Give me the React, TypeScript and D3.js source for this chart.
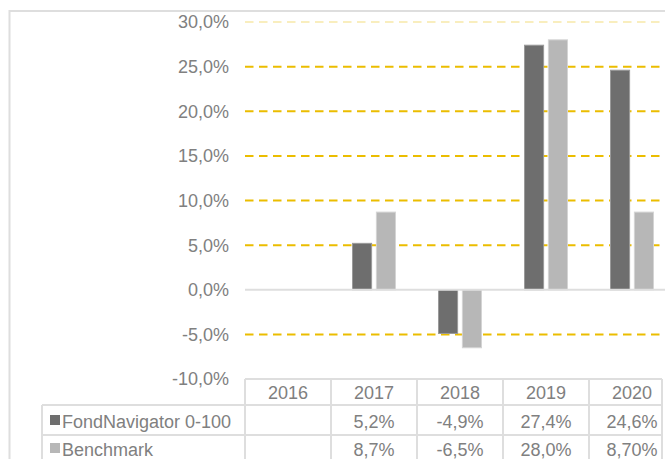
import React from "react";
import * as d3 from "d3";

const years = ["2016", "2017", "2018", "2019", "2020"];
const seriesNames = ["FondNavigator 0-100", "Benchmark"];
const fondValues: (number | null)[] = [null, 5.2, -4.9, 27.4, 24.6];
const benchValues: (number | null)[] = [null, 8.7, -6.5, 28.0, 8.7];
const fondLabels = ["", "5,2%", "-4,9%", "27,4%", "24,6%"];
const benchLabels = ["", "8,7%", "-6,5%", "28,0%", "8,70%"];
const yTicks = [-10, -5, 0, 5, 10, 15, 20, 25, 30];

const W = 665;
const H = 459;
const TEXT = "#808080";
const LINE = "#dedede";
const GOLD = "#ebbd00";
const colors = ["#6e6e6e", "#b7b7b7"];
const strokes = ["#9a9a9a", "#d4d4d4"];

export default function App() {
  const x = d3.scaleBand<string>().domain(years).range([245, 675]);
  const bw = x.bandwidth();
  const xi = d3
    .scaleBand<string>()
    .domain(seriesNames)
    .range([0, bw])
    .paddingInner(0.2)
    .paddingOuter(0.9);
  const y = d3.scaleLinear().domain([-10, 30]).range([379, 22]);
  const fmt = (v: number) =>
    d3.format(".1f")(v).replace(".", ",").replace("\u2212", "-") + "%";
  const series = [fondValues, benchValues];
  const rowLabels = [fondLabels, benchLabels];
  const font = "'Liberation Sans', Arial, sans-serif";
  const tableRight = 662;
  const rowTops = [379, 405, 435, 465];

  return (
    <div style={{ position: "absolute", left: 0, top: 0 }}>
      <svg width={W} height={H} style={{ display: "block", fontFamily: font }}>
        <rect x={0} y={0} width={W} height={H} fill="#fff" />
        {/* outer frame */}
        <line x1={9.5} y1={11} x2={W} y2={11} stroke={LINE} strokeWidth={2} />
        <line x1={9.5} y1={10} x2={9.5} y2={H} stroke={LINE} strokeWidth={2} />

        {/* gridlines */}
        {yTicks
          .filter((t) => t !== 0)
          .map((t) => (
            <line
              key={t}
              x1={245}
              x2={W}
              y1={y(t)}
              y2={y(t)}
              stroke={GOLD}
              strokeWidth={2}
              strokeDasharray="8.5,5.5"
              opacity={t === 30 || t === -10 ? 0.25 : 1}
            />
          ))}

        {/* y labels */}
        {yTicks.map((t) => (
          <text
            key={t}
            x={229}
            y={y(t)}
            dy="0.36em"
            textAnchor="end"
            fontSize={18}
            fill={TEXT}
          >
            {fmt(t)}
          </text>
        ))}

        {/* bars */}
        {series.map((vals, si) =>
          years.map((yr, i) => {
            const v = vals[i];
            if (v === null) return null;
            const x0 = (x(yr) as number) + (xi(seriesNames[si]) as number);
            const top = Math.min(y(v), y(0));
            const h = Math.abs(y(v) - y(0));
            return (
              <rect
                key={si + "-" + yr}
                x={x0}
                y={top}
                width={xi.bandwidth()}
                height={h}
                fill={colors[si]}
                stroke={strokes[si]}
                strokeWidth={1}
              />
            );
          })
        )}

        {/* zero line */}
        <line x1={245} x2={W} y1={y(0)} y2={y(0)} stroke={LINE} strokeWidth={2} />

        {/* table */}
        <rect x={245} y={rowTops[0]} width={tableRight - 245} height={H - rowTops[0] + 10} fill="#fff" />
        <rect x={42} y={rowTops[1]} width={245 - 42} height={H - rowTops[1] + 10} fill="#fff" />
        <line x1={245} x2={tableRight} y1={rowTops[0]} y2={rowTops[0]} stroke={LINE} strokeWidth={2} />
        <line x1={42} x2={tableRight} y1={rowTops[1]} y2={rowTops[1]} stroke={LINE} strokeWidth={2} />
        <line x1={42} x2={tableRight} y1={rowTops[2]} y2={rowTops[2]} stroke={LINE} strokeWidth={2} />
        <line x1={42} x2={42} y1={rowTops[1]} y2={H} stroke={LINE} strokeWidth={2} />
        {years.map((yr) => (
          <line
            key={"v" + yr}
            x1={x(yr) as number}
            x2={x(yr) as number}
            y1={rowTops[0]}
            y2={H}
            stroke={LINE}
            strokeWidth={2}
          />
        ))}
        <line x1={tableRight} x2={tableRight} y1={rowTops[0]} y2={H} stroke={LINE} strokeWidth={2} />

        {/* header */}
        {years.map((yr) => (
          <text
            key={"h" + yr}
            x={(x(yr) as number) + bw / 2}
            y={399}
            textAnchor="middle"
            fontSize={18}
            fill={TEXT}
          >
            {yr}
          </text>
        ))}

        {/* rows */}
        {seriesNames.map((name, si) => {
          const base = si === 0 ? 428 : 456;
          return (
            <g key={name}>
              <rect x={50} y={base - 13} width={10} height={10} fill={colors[si]} />
              <text x={62} y={base} fontSize={18} fill={TEXT}>
                {name}
              </text>
              {years.map((yr, i) => (
                <text
                  key={yr}
                  x={(x(yr) as number) + bw / 2}
                  y={base}
                  textAnchor="middle"
                  fontSize={18}
                  fill={TEXT}
                >
                  {rowLabels[si][i]}
                </text>
              ))}
            </g>
          );
        })}
      </svg>
    </div>
  );
}
